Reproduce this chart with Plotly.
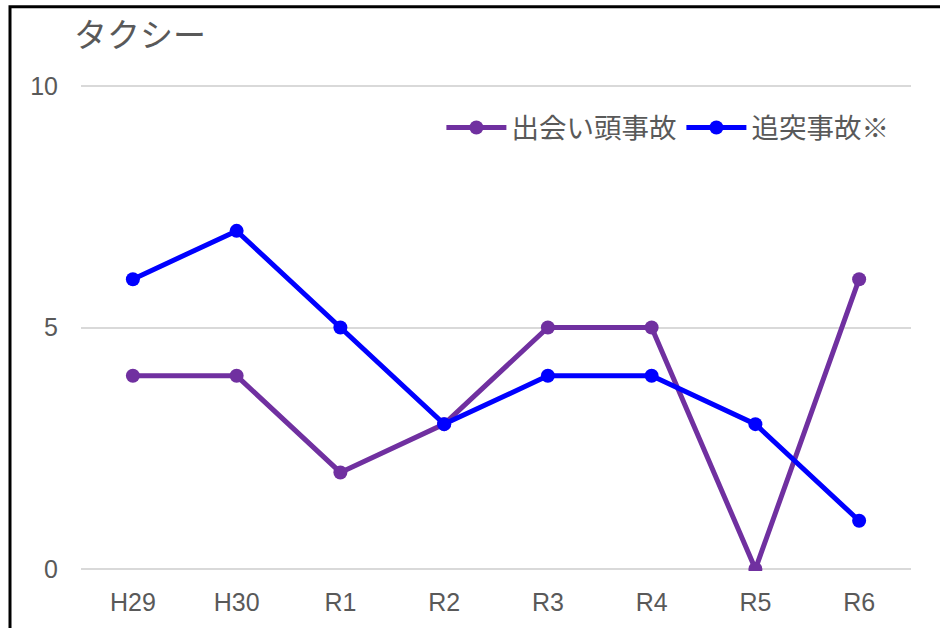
import plotly.graph_objects as go

categories = ["H29", "H30", "R1", "R2", "R3", "R4", "R5", "R6"]
deaigashira = [4, 4, 2, 3, 5, 5, 0, 6]
tsuitotsu = [6, 7, 5, 3, 4, 4, 3, 1]
title_text = "タクシー"
series_names = ["出会い頭事故", "追突事故※"]

FONT = "Liberation Sans, Arial, Noto Sans CJK JP, sans-serif"
JFONT = "Noto Sans CJK JP, sans-serif"
GREY = "#595959"

T, B = 84, 52
H = 628 - T - B

def py(pix):
    return (628 - B - pix) / H

fig = go.Figure()
fig.add_trace(go.Scatter(x=categories, y=deaigashira, name=series_names[0], mode="lines+markers",
                         line=dict(color="#7030A0", width=5), marker=dict(size=14, color="#7030A0")))
fig.add_trace(go.Scatter(x=categories, y=tsuitotsu, name=series_names[1], mode="lines+markers",
                         line=dict(color="#0000FF", width=5), marker=dict(size=14, color="#0000FF")))

fig.update_layout(
    width=940, height=628,
    margin=dict(l=81, r=29, t=T, b=B),
    paper_bgcolor="white", plot_bgcolor="white",
    font=dict(family=FONT, color=GREY, size=25),
    showlegend=True,
    legend=dict(orientation="h", x=0.98, xanchor="right", y=py(128), yanchor="middle",
                font=dict(family=JFONT, size=27.5, color=GREY),
                itemwidth=60, bgcolor="rgba(0,0,0,0)", tracegroupgap=0),
    xaxis=dict(type="category", range=[-0.5, 7.5], showgrid=False, showline=False, zeroline=False,
               ticks="", ticklabelstandoff=14, tickfont=dict(size=25, color=GREY)),
    yaxis=dict(range=[-0.04, 10.04], tickvals=[0, 5, 10], showgrid=True, gridcolor="#D9D9D9", gridwidth=2,
               zeroline=False, showline=False, ticks="", ticklabelstandoff=22,
               tickfont=dict(size=25, color=GREY)),
    annotations=[dict(text=title_text, xref="paper", yref="paper", x=(72-81)/830, y=py(32),
                      xanchor="left", yanchor="middle", showarrow=False,
                      font=dict(family=JFONT, size=33, color=GREY))],
    shapes=[dict(type="rect", xref="paper", yref="paper",
                 x0=(10-81)/830, x1=(960-81)/830, y0=-0.3, y1=py(6),
                 line=dict(color="black", width=3), fillcolor="rgba(0,0,0,0)", layer="below")],
)
fig.write_html("out.html", config={"displayModeBar": False},
               post_script="document.body.style.margin='0';document.body.style.padding='0';")
